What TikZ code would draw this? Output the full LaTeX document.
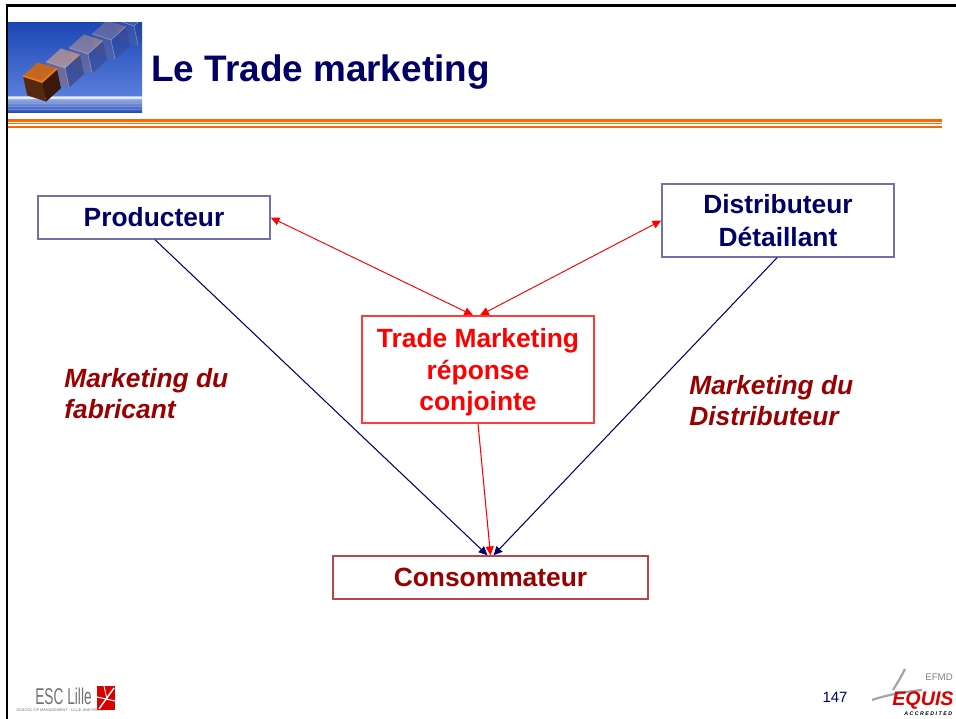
\documentclass[tikz,border=0pt]{standalone}
\usepackage{fontspec}
\setmainfont{Liberation Sans}
\usetikzlibrary{arrows.meta}

\definecolor{navy}{RGB}{0,0,102}
\definecolor{boxblue}{RGB}{112,112,170}
\definecolor{darkred}{RGB}{153,0,0}
\definecolor{consred}{RGB}{185,70,70}
\definecolor{tradered}{RGB}{255,0,0}
\definecolor{tradeline}{RGB}{255,60,60}
\definecolor{lineorange}{RGB}{255,102,0}
\definecolor{skyblue}{RGB}{34,84,210}
\definecolor{seablue}{RGB}{30,70,175}
\definecolor{cubeorange}{RGB}{232,122,36}
\definecolor{cubebrown}{RGB}{70,32,12}

\tikzset{
  box/.style={draw=boxblue, line width=0.85pt, text=navy, align=center,
    inner sep=0pt, font=\fontsize{15}{19}\selectfont\bfseries},
  tradebox/.style={box, draw=tradeline, text=tradered, text depth=0pt,
    font=\fontsize{15}{18}\selectfont\bfseries},
  consbox/.style={box, draw=consred, text=darkred},
  sidelabel/.style={text=darkred, align=left, inner sep=0pt, anchor=west,
    font=\fontsize{15}{17.6}\selectfont\bfseries\itshape},
  flow/.style={navy, line width=0.6pt, -{Triangle[length=5pt,width=4.6pt]}},
  link/.style={tradered, line width=0.55pt,
    {Triangle[length=5pt,width=4.6pt]}-{Triangle[length=5pt,width=4.6pt]}},
}

\begin{document}
\begin{tikzpicture}[x=0.02cm,y=-0.02cm]
\useasboundingbox (0,0) rectangle (956,719);
\clip (0,0) rectangle (956,719);

% slide frame and header
\draw [black, line width=1.5pt] (7,719) -- (7,5.3) -- (960,5.3);
\fill [lineorange] (8,119) rectangle (942,121.6);
\fill [lineorange] (8,123) rectangle (942,124.4);
\fill [lineorange] (8,126.3) rectangle (942,127.8);

% header picture
\begin{scope}
\clip (8,23) rectangle (142,113);
\shade [top color=skyblue!85!black, bottom color=skyblue!75!white] (8,23) rectangle (142,97);
\shade [top color=skyblue!40!white, bottom color=seablue] (8,97) rectangle (142,113);
\fill [white, opacity=0.75] (8,97) rectangle (142,99);
\foreach \yy in {103,106,109}
  \draw [skyblue!50!white, opacity=0.5, line width=0.4pt] (8,\yy) -- (142,\yy);
\foreach \cx/\cy/\op in {134/26/0.18, 111/40/0.28, 88/54/0.4, 65/68/0.55}{
  \begin{scope}[shift={(\cx,\cy)}, rotate=12, fill opacity=\op]
  \fill [cubeorange!60!white] (0,-20) -- (17.3,-10) -- (0,0) -- (-17.3,-10) -- cycle;
  \fill [cubeorange!55!skyblue] (-17.3,-10) -- (0,0) -- (0,20) -- (-17.3,10) -- cycle;
  \fill [cubebrown!50!skyblue] (0,0) -- (17.3,-10) -- (17.3,10) -- (0,20) -- cycle;
  \draw [white, opacity=0.3, line width=0.4pt] (-17.3,-10) -- (0,0) -- (17.3,-10) (0,0) -- (0,20);
  \end{scope}
}
\begin{scope}[shift={(42,82)}, rotate=12]
\fill [cubeorange!85!black] (0,-20) -- (17.3,-10) -- (0,0) -- (-17.3,-10) -- cycle;
\fill [cubebrown!90!cubeorange] (-17.3,-10) -- (0,0) -- (0,20) -- (-17.3,10) -- cycle;
\fill [cubebrown!80!black] (0,0) -- (17.3,-10) -- (17.3,10) -- (0,20) -- cycle;
\draw [cubeorange, line width=1pt] (-17.3,-10) -- (0,0) -- (17.3,-10);
\end{scope}
\end{scope}

\node (title) [anchor=base west, inner sep=0pt, text=navy,
  font=\fontsize{21}{25}\selectfont\bfseries] at (151,81.7) {Le Trade marketing};

% the four actors
\node (prod) [box, minimum width=4.64cm, minimum height=0.86cm] at (154,217.5) {Producteur};
\node (dist) [box, minimum width=4.64cm, minimum height=1.46cm] at (778,220.5) {Distributeur\\Détaillant};
\node (trade) [tradebox, minimum width=4.64cm, minimum height=2.14cm] at (478,369.5) {Trade Marketing\\réponse\\conjointe};
\node (cons) [consbox, minimum width=6.3cm, minimum height=0.86cm] at (490.5,577.5) {Consommateur};

\node (fab) [sidelabel] at (64,393.5) {Marketing du\\fabricant};
\node (distlabel) [sidelabel] at (689,400.5) {Marketing du\\Distributeur};

\draw [link] (prod.east) -- ([xshift=-0.1cm]trade.north);
\draw [link] (dist.west) -- ([xshift=0.04cm]trade.north);
\draw [flow] ([xshift=0.02cm]prod.south) -- ([xshift=-0.06cm]cons.north);
\draw [flow] ([xshift=-0.02cm]dist.south) -- ([xshift=0.06cm]cons.north);
\draw [flow, tradered] (trade.south) -- (cons.north);

% footer
\node (esc) [anchor=base west, inner sep=0pt, text=black!55,
  font=\fontsize{13}{13}\selectfont] at (35,704) {\scalebox{0.6}[1]{ESC Lille}};
\node (escsub) [anchor=base west, inner sep=0pt, text=black!55,
  font=\fontsize{2.2}{3}\selectfont] at (16,711) {SCHOOL OF MANAGEMENT · LILLE AND PARIS};
\fill [red!85!black] (97,686) rectangle (115,710);
\draw [white, line width=0.8pt] (99,709) -- (114,688);
\draw [white, line width=0.6pt] (97,697) -- (115,701);
\draw [white, line width=0.5pt] (104,686) -- (107,699);

\node (page) [text=navy, inner sep=0pt, font=\fontsize{8.5}{10}\selectfont] at (835,697) {147};

\draw [black!35, line width=1.3pt] (893,690) .. controls (898,682) and (902,675) .. (905,669);
\draw [black!35, line width=1.3pt] (872,700) .. controls (890,694) and (905,692) .. (922,690);
\node (efmd) [anchor=base west, inner sep=0pt, text=black!50,
  font=\fontsize{5.5}{7}\selectfont] at (925,680) {EFMD};
\node (equis) [anchor=base west, inner sep=0pt, text=red!85!black,
  font=\fontsize{11.2}{13}\selectfont\bfseries\itshape] at (892,705) {EQUIS};
\node (accr) [anchor=base west, inner sep=0pt, text=black,
  font=\fontsize{3}{4}\selectfont\bfseries\itshape] at (904,715) {A C C R E D I T E D};
\end{tikzpicture}
\end{document}
